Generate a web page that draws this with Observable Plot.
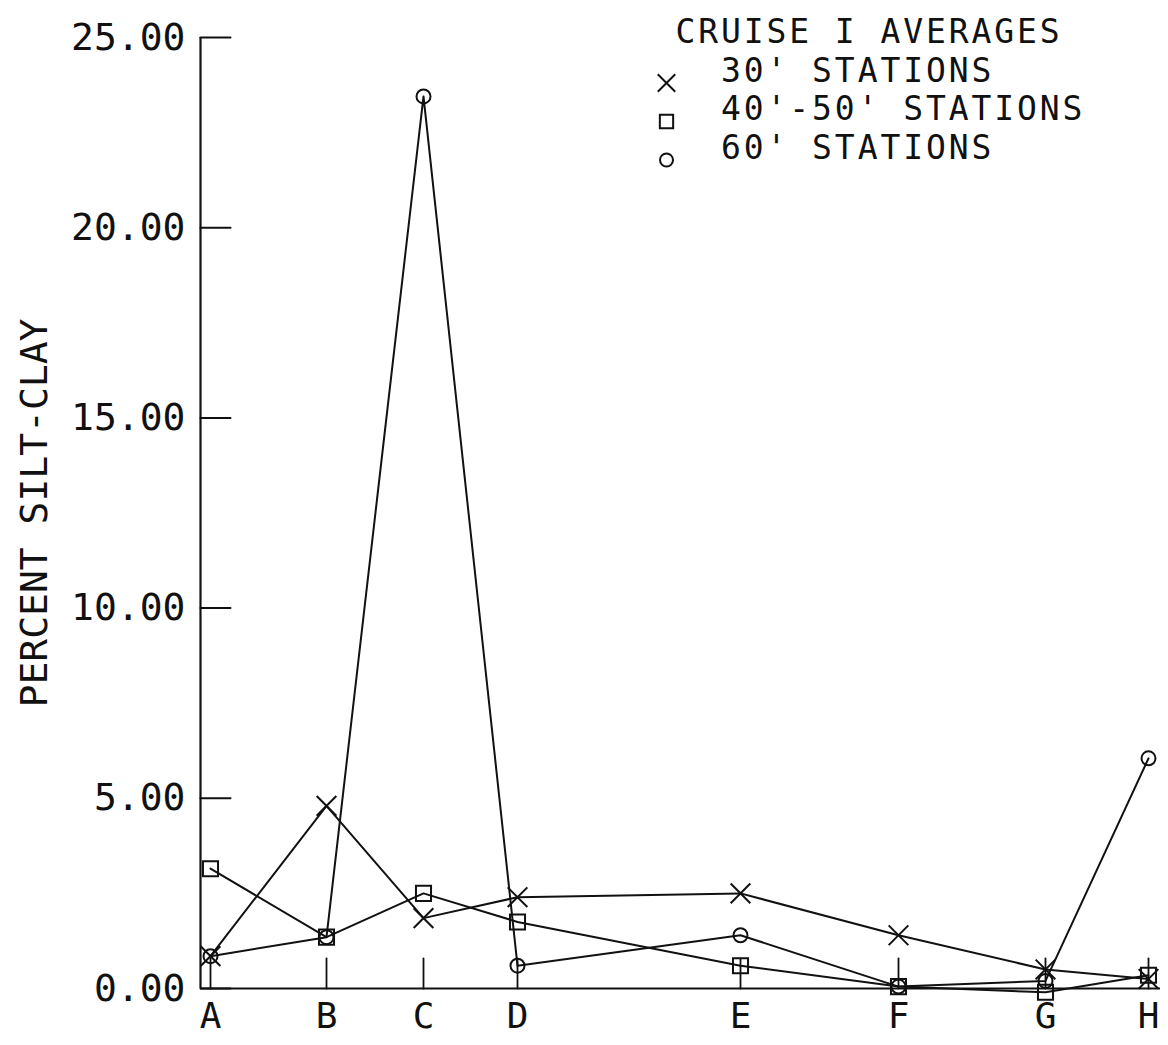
<!DOCTYPE html>
<html>
<head>
<meta charset="utf-8">
<script src="https://cdn.jsdelivr.net/npm/d3@7"></script>
<script src="https://cdn.jsdelivr.net/npm/@observablehq/plot@0.6"></script>
<style>
  html, body { margin: 0; padding: 0; background: #fff; }
  #chart svg { display: block; }
  /* widen the legend glyph advance to match the plotter lettering */
  #chart g[font-size="33"], #chart g[font-size="33"] text, #chart g[font-size="33"] tspan { letter-spacing: 2.9px; }
</style>
</head>
<body>
<div id="chart"></div>
<script>
// Stations (labels) and their positions along the transect (arbitrary distance units)
const stations = ["A", "B", "C", "D", "E", "F", "G", "H"];
const stationPos = [1.0, 12.6, 22.3, 31.7, 54.0, 69.8, 84.5, 94.8];

// Percent silt-clay, Cruise I averages
const s30 = [0.85, 4.8, 1.85, 2.4, 2.5, 1.4, 0.5, 0.25];      // 30' stations (x)
const s4050 = [3.15, 1.35, 2.5, 1.75, 0.6, 0.05, -0.1, 0.35]; // 40'-50' stations (square)
const s60 = [0.85, 1.35, 23.45, 0.6, 1.4, 0.05, 0.2, 6.05];   // 60' stations (circle)

const yTicks = [0, 5, 10, 15, 20, 25];
const xDomain = [0, 96];
const yDomain = [0, 25];

const legendTitle = "CRUISE I AVERAGES";
const legendLabels = ["30' STATIONS", "40'-50' STATIONS", "60' STATIONS"];
const legendSymbols = ["times", "square", "circle"];

const series = [
  {name: legendLabels[0], values: s30, symbol: "times", r: 9},
  {name: legendLabels[1], values: s4050, symbol: "square", r: 8.5},
  {name: legendLabels[2], values: s60, symbol: "circle", r: 7}
];

const rows = series.flatMap(s => s.values.map((v, i) => ({
  series: s.name, symbol: s.symbol, r: s.r, station: stations[i], pos: stationPos[i], value: v
})));
const stationRows = stations.map((s, i) => ({station: s, pos: stationPos[i]}));

// legend as one multi-line text block (labels indented by two monospace spaces)
const legendText = [legendTitle, ...legendLabels.map(l => "\u00a0\u00a0" + l)].join("\n");

const FONT = "DejaVu Sans Mono";
const FS = 38;
const LFS = 33;          // legend font size
const LSTEP = 38.5;      // legend line spacing (px)
const tickShape = {draw(context, l) { context.moveTo(0, 0); context.lineTo(0, -l); }};

const marks = [
  // axis lines
  Plot.ruleX([xDomain[0]], {y1: yDomain[0], y2: yDomain[1], stroke: "#111", strokeWidth: 2.2}),
  Plot.ruleY([yDomain[0]], {x1: xDomain[0], x2: xDomain[1], stroke: "#111", strokeWidth: 2.2}),
  // y ticks (inward)
  Plot.vector(yTicks, {y: d => d, frameAnchor: "left", rotate: 90, length: 30, anchor: "start",
    shape: tickShape, stroke: "#111", strokeWidth: 2}),
  // x ticks (inward)
  Plot.vector(stationRows, {x: "pos", frameAnchor: "bottom", rotate: 0, length: 30, anchor: "start",
    shape: tickShape, stroke: "#111", strokeWidth: 1.8}),
  // y tick labels
  Plot.text(yTicks, {y: d => d, text: d => d.toFixed(2), frameAnchor: "left", dx: -15,
    textAnchor: "end", lineAnchor: "middle", fontFamily: FONT, fontSize: FS, fill: "#111"}),
  // x tick labels
  Plot.text(stationRows, {x: "pos", text: "station", frameAnchor: "bottom", dy: 28,
    textAnchor: "middle", lineAnchor: "middle", fontFamily: FONT, fontSize: 36, fill: "#111"}),
  // y label
  Plot.text(["PERCENT SILT-CLAY"], {frameAnchor: "left", dx: -166, rotate: -90,
    textAnchor: "middle", lineAnchor: "middle", fontFamily: FONT, fontSize: FS, fill: "#111"}),
  // lines
  Plot.line(rows, {x: "pos", y: "value", z: "series", stroke: "#111", strokeWidth: 2}),
  // markers
  ...series.map(s => Plot.dot(rows.filter(d => d.series === s.name), {
    x: "pos", y: "value", symbol: s.symbol, r: s.r, stroke: "#111", fill: "none", strokeWidth: 2
  })),
  // legend
  Plot.text([legendText], {frameAnchor: "top-right", dx: -485, dy: -21.5,
    textAnchor: "start", lineAnchor: "top", lineHeight: LSTEP / LFS,
    fontFamily: FONT, fontSize: LFS, fill: "#111"}),
  ...legendSymbols.map((sym, i) => Plot.dot([0], {frameAnchor: "top-right", dx: -494, dy: 45.5 + i * LSTEP,
    symbol: sym, r: sym === "times" ? 8 : (sym === "square" ? 7.5 : 6.5), stroke: "#111", fill: "none", strokeWidth: 2}))
];

const chart = Plot.plot({
  width: 1168,
  height: 1045,
  marginLeft: 200,
  marginRight: 8,
  marginTop: 37,
  marginBottom: 57,
  style: {background: "#fff", overflow: "visible"},
  x: {domain: xDomain, axis: null},
  y: {domain: yDomain, axis: null},
  marks
});
document.getElementById("chart").append(chart);
</script>
</body>
</html>
